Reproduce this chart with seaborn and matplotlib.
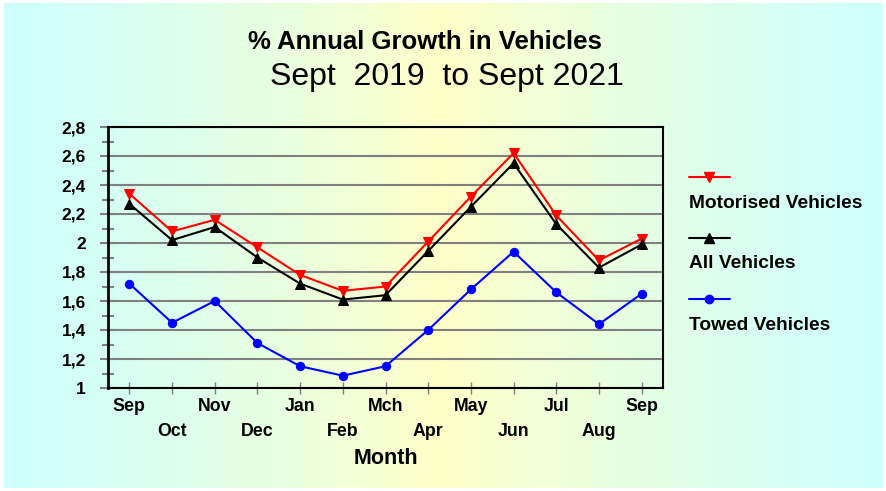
import numpy as np
import pandas as pd
import matplotlib
matplotlib.use("Agg")
import matplotlib.pyplot as plt
import seaborn as sns
from matplotlib.lines import Line2D

# ---- data ----
months = ["Sep", "Oct", "Nov", "Dec", "Jan", "Feb", "Mch", "Apr", "May", "Jun", "Jul", "Aug", "Sep"]
motorised = [2.34, 2.08, 2.16, 1.97, 1.78, 1.67, 1.70, 2.01, 2.32, 2.62, 2.19, 1.88, 2.03]
all_vehicles = [2.27, 2.02, 2.11, 1.90, 1.72, 1.61, 1.64, 1.945, 2.25, 2.55, 2.13, 1.83, 1.99]
towed = [1.72, 1.45, 1.60, 1.31, 1.15, 1.085, 1.15, 1.40, 1.68, 1.94, 1.66, 1.44, 1.65]
series_names = ["Motorised Vehicles", "All Vehicles", "Towed Vehicles"]
y_ticks = [1.0, 1.2, 1.4, 1.6, 1.8, 2.0, 2.2, 2.4, 2.6, 2.8]
y_tick_labels = ["1", "1,2", "1,4", "1,6", "1,8", "2", "2,2", "2,4", "2,6", "2,8"]
title = "% Annual Growth in Vehicles"
subtitle = "Sept  2019  to Sept 2021"
x_label = "Month"

colors = ["#ff0000", "#000000", "#0000ff"]
markers = ["v", "^", "o"]

df = pd.DataFrame({
    "pos": list(range(len(months))) * 3,
    "value": motorised + all_vehicles + towed,
    "series": [series_names[0]] * len(months) + [series_names[1]] * len(months) + [series_names[2]] * len(months),
})

sns.set_theme(style="white")
plt.rcParams["font.family"] = ["Liberation Sans", "DejaVu Sans"]
plt.rcParams["text.color"] = "black"
plt.rcParams["axes.labelcolor"] = "black"

W, H = 886, 491
fig = plt.figure(figsize=(W / 100, H / 100), dpi=100)
fig.patch.set_facecolor("white")

# gradient background
bg = fig.add_axes([4 / W, 3 / H, 878 / W, 485 / H], zorder=-10)
edge = np.array([207, 255, 252]) / 255.0
center = np.array([255, 255, 200]) / 255.0
xs = np.linspace(0, 1, 600)
c0 = 440 / 878
t = np.where(xs < c0, xs / c0, (1 - xs) / (1 - c0))
t = np.clip(t, 0, 1) ** 1.3
grad = edge[None, :] * (1 - t[:, None]) + center[None, :] * t[:, None]
bg.imshow(grad[None, :, :], aspect="auto", extent=[0, 1, 0, 1])
bg.set_axis_off()

ax = fig.add_axes([108 / W, 1 - 388 / H, (663 - 108) / W, (388 - 127) / H])
ax.set_facecolor("none")

for name, col, mk in zip(series_names, colors, markers):
    sub = df[df["series"] == name]
    sns.lineplot(data=sub, x="pos", y="value", ax=ax, color=col, marker=mk,
                 markersize=7 if mk != "o" else 6, markeredgecolor=col, linewidth=1.5,
                 legend=False, zorder=5)

ax.set_xlim(-0.5, len(months) - 0.5)
ax.set_ylim(1.0, 2.8)
ax.set_yticks(y_ticks)
ax.set_yticklabels(y_tick_labels, fontsize=12.5, fontweight="bold")
ax.set_yticks(np.arange(1.1, 2.8, 0.2), minor=True)
ax.set_xticks(range(len(months)))
ax.set_xticklabels(months, fontsize=12.8, fontweight="bold")
ax.grid(axis="y", which="major", color="#808080", linewidth=1.5)
ax.set_axisbelow(True)
ax.tick_params(axis="y", which="major", direction="inout", length=12, width=1.5, color="#808080",
               labelcolor="black", pad=10, left=True)
ax.tick_params(axis="y", which="minor", direction="inout", length=8, width=1.5, color="#808080", left=True)
ax.tick_params(axis="x", which="major", direction="inout", length=8, width=1, color="#808080",
               labelcolor="black", pad=3, bottom=True)
for i, tick in enumerate(ax.xaxis.get_major_ticks()):
    if i % 2 == 1:
        tick.set_pad(21)
for s in ax.spines.values():
    s.set_color("black")
    s.set_linewidth(1.5)
ax.spines["left"].set_linewidth(2)
ax.set_xlabel(x_label, fontsize=15.5, fontweight="bold", labelpad=6, color="black")
ax.set_ylabel("")

fig.text(425 / W, 1 - 42 / H, title, ha="center", va="center", fontsize=18.5, fontweight="bold")
fig.text(447 / W, 1 - 77 / H, subtitle, ha="center", va="center", fontsize=23)

# legend (custom layout: handle above label)
hy = [177, 238, 299]
ty = [203, 264, 325]
for name, col, mk, h, tpos in zip(series_names, colors, markers, hy, ty):
    fig.add_artist(Line2D([689 / W, 730 / W], [1 - h / H, 1 - h / H], color=col, linewidth=1.5,
                          transform=fig.transFigure))
    fig.add_artist(Line2D([709 / W], [1 - h / H], color=col, marker=mk, markersize=7 if mk != "o" else 6,
                          markeredgecolor=col, transform=fig.transFigure))
    fig.text(689 / W, 1 - tpos / H, name, ha="left", va="center", fontsize=13.8, fontweight="bold")

fig.savefig("out.png", dpi=100)
